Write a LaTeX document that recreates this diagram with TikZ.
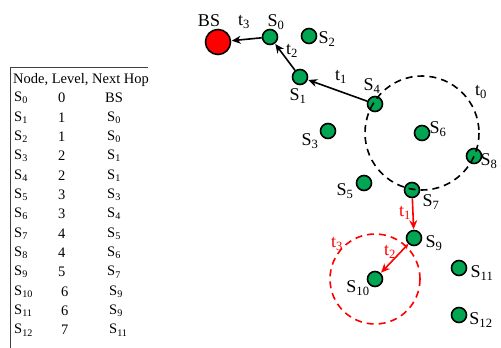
\documentclass[tikz,border=0pt]{standalone}
\usepackage{fontspec}
\setmainfont{Liberation Serif}
\usetikzlibrary{arrows.meta}
\definecolor{nodegreen}{RGB}{0,166,81}
\newcommand\Sn[1]{S\textsubscript{#1}}
\tikzset{
  sensor/.style={circle,draw=black,fill=nodegreen,line width=1.6pt,minimum size=15pt,inner sep=0pt},
  basest/.style={circle,draw=black,fill=red,line width=1.6pt,minimum size=25pt,inner sep=0pt},
  lbl/.style={font=\fontsize{18}{20}\selectfont,inner sep=0pt},
  rlbl/.style={lbl,text=red},
  hop/.style={-{Stealth[length=9pt,width=8pt]},line width=1.6pt,shorten >=0.5pt},
  rhop/.style={hop,draw=red},
  tabtxt/.style={font=\fontsize{14.5}{16}\selectfont,inner sep=0pt,anchor=west},
  rangecirc/.style={line width=1.6pt,dash pattern=on 7pt off 5pt}
}
\begin{document}
\begin{tikzpicture}[x=1pt,y=-1pt]
\useasboundingbox (0,0) rectangle (501,348);
% table
\draw[line width=0.8pt,draw=black!75] (10,350) -- (10,67) -- (148,67);
\node[tabtxt] (hdr) at (13,80) {Node, Level, Next Hop};
\foreach \i/\l/\h [count=\k from 0] in {0/0/BS,1/1/\Sn{0},2/1/\Sn{0},3/2/\Sn{1},4/2/\Sn{1},5/3/\Sn{3},6/3/\Sn{4},7/4/\Sn{5},8/4/\Sn{6},9/5/\Sn{7},10/6/\Sn{9},11/6/\Sn{9},12/7/\Sn{11}}{
  \pgfmathsetmacro\yy{98+19.35*\k}
  \pgfmathsetmacro\xo{ifthenelse(\i>9,3,0)}
  \pgfmathsetmacro\xh{ifthenelse(\k==0,105,ifthenelse(\i>9,109,107))}
  \node[tabtxt] (n\i) at (14,\yy) {\Sn{\i}};
  \node[tabtxt] (l\i) at (58+\xo,\yy) {\l};
  \node[tabtxt] (h\i) at (\xh,\yy) {\h};
}
% nodes
\node[basest] (BS) at (218,42) {};
\node[sensor] (S0) at (270,37) {};
\node[sensor] (S2) at (309,36) {};
\node[sensor] (S1) at (300,77) {};
\node[sensor] (S4) at (375,104) {};
\node[sensor] (S3) at (328,131) {};
\node[sensor] (S6) at (422,133) {};
\node[sensor] (S8) at (474,156) {};
\node[sensor] (S5) at (364,183) {};
\node[sensor] (S7) at (412,190) {};
\node[sensor] (S9) at (414,238) {};
\node[sensor] (S10) at (375,279) {};
\node[sensor] (S11) at (459,268) {};
\node[sensor] (S12) at (459,315) {};
% ranges
\draw[rangecirc] (S6.center) circle[radius=57];
\draw[rangecirc,draw=red] (S10.center) circle[radius=45];
% arrows
\draw[hop] (S0) -- (BS);
\draw[hop] (S1) -- (S0);
\draw[hop] (S4) -- (S1);
\draw[rhop] (S7) -- (S9);
\draw[rhop,{Stealth[length=5pt,width=5pt]}-{Stealth[length=9pt,width=8pt]}] (S9) -- (S10);
% labels
\node[lbl] (lBS) at (209,21) {BS};
\node[lbl] (lt3) at (244,22) {t\textsubscript{3}};
\node[lbl] (lS0) at (276,22) {\Sn{0}};
\node[lbl] (lS2) at (327,39) {\Sn{2}};
\node[lbl] (lt2) at (292,51) {t\textsubscript{2}};
\node[lbl] (lS1) at (298,96) {\Sn{1}};
\node[lbl] (lt1) at (341,77) {t\textsubscript{1}};
\node[lbl] (lS4) at (372,86) {\Sn{4}};
\node[lbl] (lt0) at (481,92) {t\textsubscript{0}};
\node[lbl] (lS3) at (310,141) {\Sn{3}};
\node[lbl] (lS6) at (438,129) {\Sn{6}};
\node[lbl] (lS8) at (489,161) {\Sn{8}};
\node[lbl] (lS5) at (345,191) {\Sn{5}};
\node[lbl] (lS7) at (431,202) {\Sn{7}};
\node[rlbl] (rt1) at (405,213) {t\textsubscript{1}};
\node[lbl] (lS9) at (434,243) {\Sn{9}};
\node[rlbl] (rt2) at (390,252) {t\textsubscript{2}};
\node[rlbl] (rt3) at (337,244) {t\textsubscript{3}};
\node[lbl] (lS10) at (358,288) {\Sn{10}};
\node[lbl] (lS11) at (482,273) {\Sn{11}};
\node[lbl] (lS12) at (481,320) {\Sn{12}};
\end{tikzpicture}
\end{document}
